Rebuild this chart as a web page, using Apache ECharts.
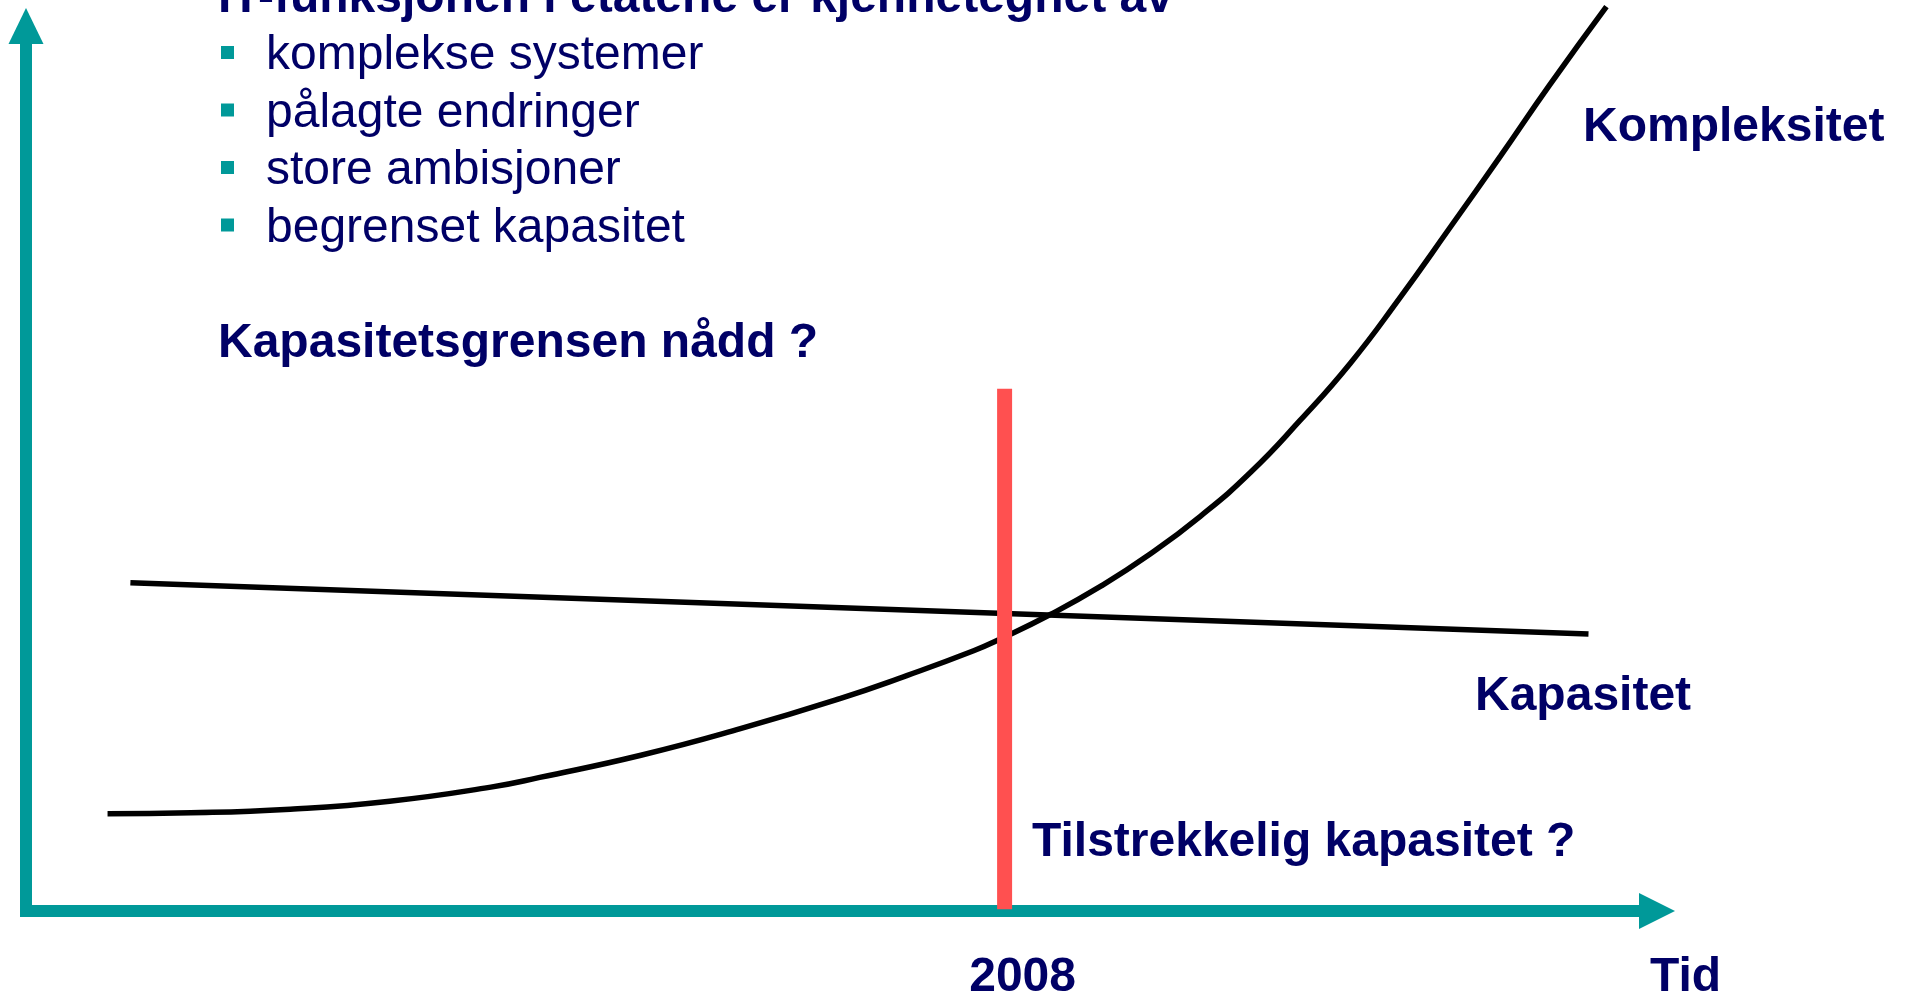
<!DOCTYPE html>
<html>
<head>
<meta charset="utf-8">
<script src="https://cdn.jsdelivr.net/npm/echarts@6/dist/echarts.min.js"></script>
<style>
  html, body { margin: 0; padding: 0; background: #ffffff; }
  #chart { width: 1906px; height: 995px; }
</style>
</head>
<body>
<div id="chart"></div>
<script>
// ---- data (abstract time / level units, 0..100 on both axes) ----
const kapasitet = [[6.4, 37.1], [95.8, 31.3]];
const kompleksitet = [
  [5.0, 11.0], [10.1, 11.1], [16.2, 11.5], [22.3, 12.4], [28.5, 14.0],
  [31.5, 15.1], [37.7, 17.6], [43.8, 20.6], [49.9, 24.0], [54.0, 26.6],
  [58.1, 29.4], [59.7, 30.7], [62.8, 33.5], [65.9, 36.7], [68.9, 40.3],
  [72.0, 44.6], [75.1, 49.6], [78.1, 55.4], [81.2, 61.9], [84.2, 69.2],
  [87.3, 77.2], [90.4, 85.3], [93.4, 93.3], [96.9, 102.2]
];
const markerX = 60.0;            // position of 2008 on the time axis
const markerTop = 59.0;          // top of red marker
const markerBottom = 0.2;
const tickValues = [markerX];
const tickLabels = ['2008'];

const titleText = 'IT-funksjonen i etatene er kjennetegnet av';
const bulletItems = ['komplekse systemer', 'pålagte endringer', 'store ambisjoner', 'begrenset kapasitet'];
const question1 = 'Kapasitetsgrensen nådd ?';
const question2 = 'Tilstrekkelig kapasitet ?';
const labelKompleksitet = 'Kompleksitet';
const labelKapasitet = 'Kapasitet';
const axisNameX = 'Tid';

// ---- styles ----
const TEAL = '#009999';
const NAVY = '#000066';
const RED = '#FF5050';
const FONT = '"Liberation Sans", Arial, Helvetica, sans-serif';

function txt(text, x, y, bold) {
  return {
    type: 'text', x: x, y: y, silent: true, z: 10,
    style: {
      text: text, fill: NAVY, fontFamily: FONT, fontSize: 48,
      fontWeight: bold ? 'bold' : 'normal', align: 'left', verticalAlign: 'middle'
    }
  };
}

const graphics = [];
graphics.push(txt(titleText, 218, -1.5, true));
bulletItems.forEach(function (t, i) {
  const yMid = 56 + i * 57.5;
  graphics.push({ type: 'rect', silent: true, shape: { x: 221, y: 52.5 + i * 57.5 - 6.5, width: 13, height: 13 }, style: { fill: TEAL } });
  graphics.push(txt(t, 266, yMid, false));
});
graphics.push(txt(question1, 218, 344, true));
graphics.push(txt(labelKompleksitet, 1583, 128, true));
graphics.push(txt(labelKapasitet, 1475, 696.5, true));
graphics.push(txt(question2, 1032, 843, true));
graphics.push(txt(axisNameX, 1650, 977.5, true));

const chart = echarts.init(document.getElementById('chart'), null, { renderer: 'canvas' });
chart.setOption({
  animation: false,
  backgroundColor: '#ffffff',
  grid: { left: 26, right: 249, top: 26, bottom: 84, containLabel: false, outerBoundsMode: 'none' },
  xAxis: {
    type: 'value', min: 0, max: 100,
    splitLine: { show: false },
    axisTick: { show: false },
    axisLine: {
      show: true, onZero: false,
      symbol: ['none', 'triangle'], symbolSize: [36, 36],
      lineStyle: { color: TEAL, width: 12, cap: 'square' }
    },
    axisLabel: {
      show: true,
      customValues: tickValues,
      formatter: function (v) { const i = tickValues.indexOf(v); return i >= 0 ? tickLabels[i] : ''; },
      color: NAVY, fontFamily: FONT, fontSize: 48, fontWeight: 'bold',
      margin: 43, padding: [0, 0, 0, 36]
    }
  },
  yAxis: {
    type: 'value', min: 0, max: 100,
    splitLine: { show: false },
    axisTick: { show: false },
    axisLabel: { show: false },
    axisLine: {
      show: true, onZero: false,
      symbol: ['none', 'triangle'], symbolSize: [35, 36],
      lineStyle: { color: TEAL, width: 12, cap: 'square' }
    }
  },
  graphic: graphics,
  series: [
    {
      name: labelKapasitet, type: 'line', data: kapasitet, symbol: 'none', clip: false,
      lineStyle: { color: '#000000', width: 5.5 }
    },
    {
      name: labelKompleksitet, type: 'line', data: kompleksitet, symbol: 'none', clip: false,
      smooth: 0.5,
      lineStyle: { color: '#000000', width: 5.5 }
    },
    {
      name: 'marker', type: 'line', data: [[markerX, markerTop], [markerX, markerBottom]],
      symbol: 'none', clip: false, z: 5,
      lineStyle: { color: RED, width: 15 }
    }
  ]
});
</script>
</body>
</html>
